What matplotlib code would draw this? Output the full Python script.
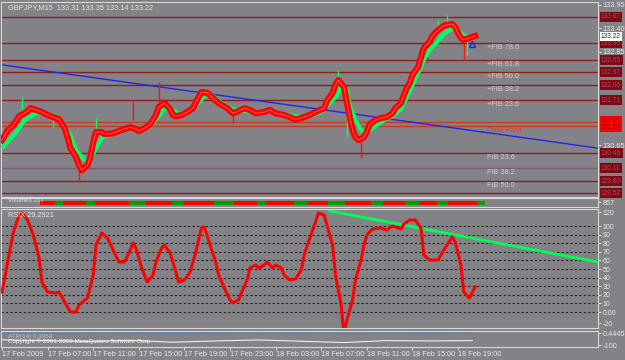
import matplotlib.pyplot as plt
import matplotlib.transforms as mtransforms

# ---- data (x = bar index on M15) ----
title_text = 'GBPJPY,M15  133.31 133.35 133.14 133.22'

price_bars = [0, 2, 4, 6, 9, 10, 12, 14, 16, 18, 20, 22, 23, 24, 26, 27, 28, 30, 31, 32,
              33, 35, 36, 39, 40, 43, 45, 47, 48, 50, 52, 54, 55, 57, 59, 60, 61, 63, 65, 67,
              69, 70, 72, 74, 76, 79, 81, 83, 85, 87, 89, 92, 94, 96, 99, 101, 103, 106, 108, 110,
              113, 114, 116, 117, 118, 120, 121, 122, 123, 124, 125, 127, 128, 129, 131, 133, 135, 137, 138, 140,
              141, 142, 143, 144, 146, 147, 148, 150, 151, 153, 155, 156, 158, 159, 160, 161, 162, 164, 165, 166]
price_red = [130.77, 131.00, 131.12, 131.33, 131.45, 131.52, 131.48, 131.43, 131.36, 131.31,
             131.26, 131.05, 130.84, 130.58, 130.37, 130.18, 130.06, 130.18, 130.37, 130.72,
             130.96, 130.96, 130.91, 130.93, 130.96, 131.03, 131.07, 131.03, 130.98, 131.05,
             131.14, 131.36, 131.55, 131.64, 131.50, 131.36, 131.33, 131.36, 131.43, 131.52,
             131.78, 131.90, 131.88, 131.76, 131.64, 131.52, 131.40, 131.45, 131.52, 131.48,
             131.40, 131.43, 131.48, 131.40, 131.36, 131.31, 131.25, 131.31, 131.36, 131.43,
             131.52, 131.69, 131.88, 132.07, 132.18, 132.02, 131.66, 131.31, 131.00, 130.84,
             130.77, 130.84, 130.96, 131.14, 131.24, 131.29, 131.31, 131.40, 131.52, 131.64,
             131.83, 131.99, 132.11, 132.30, 132.49, 132.72, 132.94, 133.08, 133.22, 133.36,
             133.46, 133.48, 133.50, 133.43, 133.29, 133.17, 133.13, 133.17, 133.20, 133.22]

ma_bars = [0, 5, 8, 12, 15, 19, 21, 24, 26, 29, 31, 33, 35, 38, 41, 45, 48, 52, 55, 57,
           60, 62, 66, 69, 71, 74, 76, 80, 83, 87, 90, 94, 97, 101, 105, 108, 112, 114, 117, 119,
           121, 122, 124, 126, 128, 129, 132, 134, 137, 140, 142, 144, 146, 148, 150, 153, 155, 157, 159, 161,
           163, 164, 166]
ma_green = [130.58, 130.96, 131.24, 131.40, 131.40, 131.33, 131.19, 130.89, 130.53, 130.30,
            130.30, 130.58, 130.82, 130.91, 130.98, 131.05, 131.03, 131.10, 131.33, 131.52,
            131.48, 131.38, 131.45, 131.64, 131.81, 131.81, 131.69, 131.52, 131.45, 131.45,
            131.43, 131.45, 131.40, 131.36, 131.31, 131.33, 131.43, 131.57, 131.78, 131.99,
            131.95, 131.59, 131.24, 131.00, 130.93, 131.00, 131.14, 131.24, 131.33, 131.50,
            131.78, 132.06, 132.35, 132.65, 132.89, 133.10, 133.27, 133.36, 133.38, 133.29,
            133.20, 133.17, 133.20]

wick_bars = [7, 18, 27, 33, 46, 55, 81, 118, 121, 126, 149, 153, 156, 162, 163]
wick_low = [131.41, 131.07, 129.78, 131.00, 131.24, 131.55, 131.17, 131.88, 130.84, 130.34,
            132.58, 133.05, 133.48, 132.65, 132.77]
wick_high = [131.78, 131.40, 130.18, 131.29, 131.71, 132.14, 131.48, 132.42, 131.31, 130.77,
             133.13, 133.60, 133.71, 133.05, 133.20]
wick_up = [True, True, False, True, False, False, False, True, True, False,
           False, True, True, False, True]

trend_bars = [0, 209.1]
trend_price = [132.54, 130.58]

levels = [133.67, 133.05, 132.65, 132.37, 132.06, 131.71, 131.19, 131.10, 130.46, 130.11, 129.80, 129.52]
level_kind = ['fib', 'fib', 'fib', 'fib', 'fib', 'fib', 'pivot', 'pivot', 'fib', 'mid', 'fib', 'fib']
fib_labels = {133.05: '+FIB 78.6', 132.65: '+FIB 61.8', 132.37: '+FIB 50.0', 132.06: '+FIB 38.2',
              131.71: '+FIB 23.6', 131.10: 'Daily Pivot', 130.46: 'FIB 23.6', 130.11: 'FIB 38.2',
              129.80: 'FIB 50.0'}
price_ticks = [133.95, 133.40, 132.85, 130.65]
last_price = 133.22

vol_runs = [('n', 14), ('r', 5), ('g', 3), ('r', 8), ('g', 3), ('r', 12), ('g', 6), ('r', 9), ('g', 4),
            ('r', 11), ('g', 7), ('r', 8), ('g', 3), ('r', 10), ('g', 5), ('r', 7), ('g', 6), ('r', 9),
            ('g', 4), ('r', 8), ('g', 5), ('r', 6), ('g', 4), ('r', 10), ('g', 3)]
vol_label = 'Volumes 217'

rsi_bars = [0, 2, 4, 6, 7, 9, 11, 13, 14, 16, 19, 20, 22, 24, 26, 27, 30, 32, 33, 35,
            37, 39, 41, 43, 45, 46, 47, 49, 51, 53, 54, 56, 57, 59, 61, 62, 64, 66, 68, 70,
            71, 73, 75, 76, 78, 80, 81, 83, 84, 86, 87, 89, 90, 92, 93, 95, 96, 98, 99, 101,
            103, 105, 106, 108, 110, 111, 113, 114, 116, 117, 119, 120, 121, 123, 124, 126, 127, 128, 130, 133,
            135, 137, 140, 141, 143, 145, 147, 148, 150, 153, 155, 158, 159, 161, 162, 164, 166]
rsi_vals = [23.3, 58.1, 93.0, 112.8, 115.1, 107.0, 89.5, 62.8, 34.9, 23.3, 22.1, 23.3, 11.6, 0.0, 0.0,
            8.1, 16.3, 43.0, 77.9, 91.9, 86.0, 72.1, 58.1, 58.1, 72.1, 80.2, 74.4, 51.2, 34.9, 43.0,
            58.1, 74.4, 77.9, 68.6, 46.5, 34.9, 37.2, 46.5, 69.8, 97.7, 98.8, 77.9, 58.1, 43.0, 27.9,
            14.0, 10.5, 14.0, 22.1, 37.2, 51.2, 54.7, 51.2, 54.7, 58.1, 51.2, 54.7, 51.2, 43.0, 37.2,
            38.4, 48.8, 66.3, 86.0, 104.7, 115.1, 112.8, 101.2, 77.9, 43.0, 8.1, -26.7, -9.3, 14.0, 37.2,
            60.5, 77.9, 89.5, 96.5, 97.7, 95.3, 100.0, 96.5, 102.3, 107.0, 107.0, 97.7, 66.3, 60.5, 60.5,
            72.1, 87.2, 81.4, 54.7, 23.3, 16.3, 29.3]
rsi_label = 'RSIX 29.2921'
rsi_levels = [100, 90, 80, 70, 60, 50, 40, 30, 20, 10, 0]
rsi_tick_pos = [116.3, 100, 90, 80, 70, 60, 50, 40, 30, 20, 10, 0, -12.8]
rsi_tick_lab = ['120', '100', '90', '80', '70', '60', '50', '40', '30', '20', '10', '0.00', '-20']
rsi_trend_bars = [115.1, 209.1]
rsi_trend_vals = [117.4, 58.1]

atr_bars = [0, 15, 30, 45, 60, 75, 90, 105, 120, 135, 150, 165]
atr_blue = [0.80, 0.82, 0.85, 0.86, 0.88, 0.86, 0.85, 0.86, 0.84, 0.85, 0.86, 0.85]
atr_white = [0.45, 0.40, 0.35, 0.42, 0.30, 0.38, 0.44, 0.36, 0.28, 0.40, 0.38, 0.40]

time_ticks = [0, 16, 32, 48, 64, 80, 96, 112, 128, 144, 160]
time_labels = ['17 Feb 2009', '17 Feb 07:00', '17 Feb 11:00', '17 Feb 15:00', '17 Feb 19:00',
               '17 Feb 23:00', '18 Feb 03:00', '18 Feb 07:00', '18 Feb 11:00', '18 Feb 15:00',
               '18 Feb 19:00']

# ---- style ----
BG = '#838387'
FG = '#e8e8e8'
FS = 5.3
plt.rcParams['font.family'] = ['Liberation Sans', 'DejaVu Sans']

fig = plt.figure(figsize=(6.25, 3.6), dpi=100, facecolor=BG)


def rect(top, bottom, left=1, right=598):
    return [left / 625, 1 - bottom / 360, (right - left) / 625, (bottom - top) / 360]


ax = fig.add_axes(rect(2, 197))
ax_vol = fig.add_axes(rect(198, 207), sharex=ax)
ax_rsi = fig.add_axes(rect(209, 328), sharex=ax)
ax_atr = fig.add_axes(rect(331, 347), sharex=ax)

for a in (ax, ax_vol, ax_rsi, ax_atr):
    a.set_facecolor(BG)
    for s in a.spines.values():
        s.set_color('#d8d8d8')
        s.set_linewidth(0.8)
    a.spines['right'].set_linestyle((0, (1, 1)))
    a.yaxis.tick_right()
    a.tick_params(axis='y', colors=FG, labelsize=FS, length=2, pad=1.5, width=0.6)
    a.tick_params(axis='x', bottom=False, labelbottom=False)

ax.set_xlim(-0.35, 209.1)

# ---- main price panel ----
line_col = {'fib': '#8e1c1c', 'pivot': '#c83a1e', 'mid': '#7e5a7a'}
for lv, kind in zip(levels, level_kind):
    ax.axhline(lv, color=line_col[kind], lw=1.0, zorder=1)

ax.plot(trend_bars, trend_price, color='#2222ee', lw=1.0, zorder=2)

for b, lo, hi, up in zip(wick_bars, wick_low, wick_high, wick_up):
    ax.vlines(b, lo, hi, color='#00ff60' if up else '#ff1010', lw=1.0, zorder=3)

ax.plot(ma_bars, ma_green, color='#00ff66', lw=3.0, zorder=3, solid_capstyle='butt')
ax.plot(price_bars, price_red, color='#ff0000', lw=4.5, zorder=4)
ax.plot(price_bars, price_red, color='#ff7070', lw=0.8, alpha=0.7, zorder=5)
ax.plot([165], [133.03], marker='^', mfc='none', mec='#2020ff', ms=5, mew=1.0, zorder=6)

for lv, txt in fib_labels.items():
    col = '#ff2a2a' if txt == 'Daily Pivot' else '#d0d0d0'
    ax.text(170, lv - 0.02, txt, color=col, fontsize=FS, va='top', ha='left', zorder=6)

ax.text(2, 133.88, title_text, color=FG, fontsize=FS, va='center', ha='left')

ax.set_ylim(129.43, 134.02)
ax.set_yticks(price_ticks)
ax.set_yticklabels(['%.2f' % t for t in price_ticks])

# price-level boxes on the right scale
tr = mtransforms.blended_transform_factory(ax.transAxes, ax.transData)
box_fs = 4.8
for lv, kind in zip(levels, level_kind):
    if kind == 'pivot':
        continue
    ax.text(1.005, lv, '%.2f' % lv, transform=tr, fontsize=box_fs, color='#c84050', va='center',
            ha='left', bbox=dict(boxstyle='square,pad=0.2', fc='#7a0a16', ec='none'),
            clip_on=False, zorder=10)
piv = [lv for lv, k in zip(levels, level_kind) if k == 'pivot']
ax.text(1.005, sum(piv) / len(piv), '\n'.join('%.2f' % p for p in piv), transform=tr,
        fontsize=box_fs, color='#9a0000', va='center', ha='left', linespacing=0.9,
        bbox=dict(boxstyle='square,pad=0.2', fc='#ff0000', ec='none'), clip_on=False, zorder=10)
ax.text(1.005, last_price - 0.01, '%.2f' % last_price, transform=tr, fontsize=box_fs,
        color='#303030', va='center', ha='left',
        bbox=dict(boxstyle='square,pad=0.2', fc='white', ec='none'), clip_on=False, zorder=11)

# ---- volume strip ----
pos = 0
for code, n in vol_runs:
    if code != 'n':
        ax_vol.bar(range(pos, pos + n), [0.5] * n, bottom=0.2, width=1.0,
                   color='#ff0000' if code == 'r' else '#00a000', lw=0)
    pos += n
ax_vol.set_ylim(0, 1)
ax_vol.set_yticks([0.5])
ax_vol.set_yticklabels(['857'])
ax_vol.text(2, 0.75, vol_label, color=FG, fontsize=4.5, va='center', ha='left')

# ---- RSI panel ----
for lv in rsi_levels:
    ax_rsi.axhline(lv, color='#222222', lw=0.8, ls=(0, (2, 2)), zorder=1)
ax_rsi.plot(rsi_bars, rsi_vals, color='#ff0000', lw=2.2, zorder=3)
ax_rsi.plot(rsi_trend_bars, rsi_trend_vals, color='#00ff55', lw=2.0, zorder=2)
ax_rsi.set_ylim(-18.6, 119.8)
ax_rsi.set_yticks(rsi_tick_pos)
ax_rsi.set_yticklabels(rsi_tick_lab)
ax_rsi.tick_params(axis='y', labelsize=5)
ax_rsi.text(2, 112, rsi_label, color=FG, fontsize=FS, va='center', ha='left')

# ---- bottom indicator panel ----
ax_atr.plot(atr_bars, atr_blue, color='#4a86c8', lw=1.0)
ax_atr.plot(atr_bars, atr_white, color='#f0f0f0', lw=0.8)
ax_atr.set_ylim(0, 1)
ax_atr.set_yticks([0.85, 0.1])
ax_atr.set_yticklabels(['0.4445', '-100'])
ax_atr.text(2, 0.66, 'ATR(14) 0.3353', color='#c8c8c8', fontsize=4.5, va='center', ha='left')
ax_atr.text(2, 0.36, 'Copyright \u00a9 2001-2009 MetaQuotes Software Corp.', color='white',
            fontsize=4.5, va='center', ha='left')

ax_atr.tick_params(axis='x', bottom=True, labelbottom=True, colors=FG, labelsize=FS,
                   length=2, pad=1, width=0.6)
ax_atr.set_xticks(time_ticks)
ax_atr.set_xticklabels(time_labels, ha='left')

fig.savefig('out.png', dpi=100, facecolor=BG)
